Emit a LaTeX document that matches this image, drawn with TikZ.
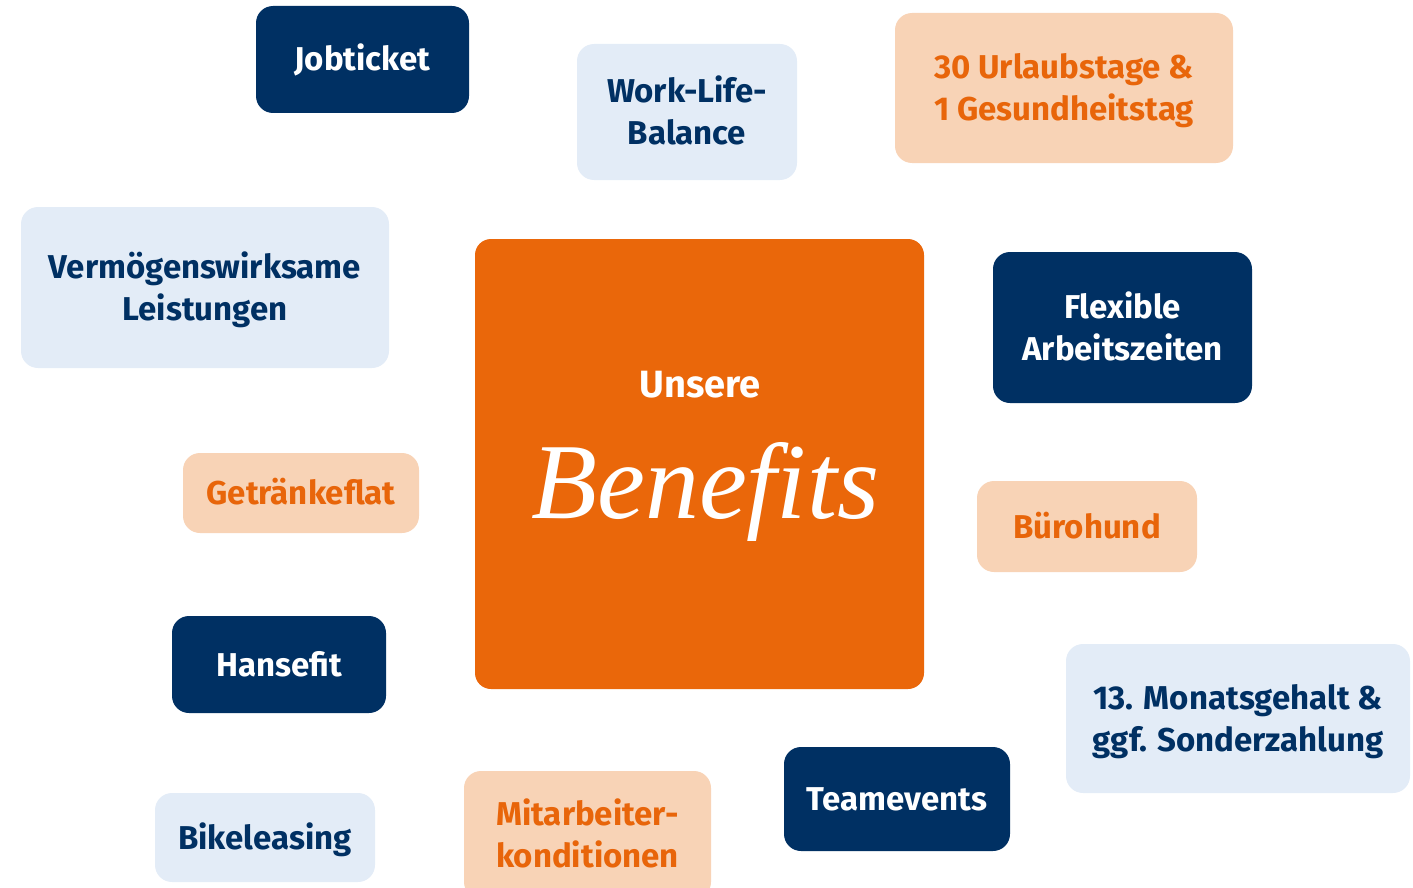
\documentclass[tikz,border=0pt]{standalone}
\usepackage{fontspec}
\setmainfont{Fira Sans}
\newfontfamily\benefitsfont{Liberation Serif}
\definecolor{navy}{RGB}{0,48,99}
\definecolor{lightblue}{RGB}{227,236,247}
\definecolor{peach}{RGB}{248,211,182}
\definecolor{brandorange}{RGB}{234,103,10}
\definecolor{orangetext}{RGB}{232,101,10}
\begin{document}
\begin{tikzpicture}[x=1pt,y=-1pt,
  benefit/.style={rounded corners=17pt, align=center, inner sep=0pt,
    text height=23pt, text depth=0pt,
    font=\fontsize{33}{42}\selectfont\bfseries},
  twolines/.style={text height=65pt, text depth=0pt},
  darkbox/.style={benefit, fill=navy, text=white},
  lightbox/.style={benefit, fill=lightblue, text=navy},
  peachbox/.style={benefit, fill=peach, text=orangetext},
  centerbox/.style={fill=brandorange, rounded corners=16pt, inner sep=0pt},
  unseretext/.style={text=white, font=\fontsize{38}{44}\selectfont\bfseries, inner sep=0pt},
  scripttext/.style={text=white, font=\fontsize{108}{110}\selectfont\benefitsfont\itshape, inner sep=0pt}]
\useasboundingbox (0,0) rectangle (1413,888);
\clip (0,0) rectangle (1413,888);

\node[centerbox, minimum width=449pt, minimum height=450pt] (center) at (699.5,464) {};
\node[unseretext] (unsere) at (700,384.5) {Unsere};
\node[scripttext] (benefits) at (705,492) {Benefits};

\node[darkbox, minimum width=213pt, minimum height=107pt] (jobticket) at (362.5,59.5) {Jobticket};
\node[lightbox, twolines, minimum width=220pt, minimum height=136pt] (worklife) at (687,112) {Work-Life-\\Balance};
\node[peachbox, twolines, minimum width=338pt, minimum height=150pt] (urlaub) at (1064,88) {30 Urlaubstage \&\\1 Gesundheitstag};
\node[lightbox, twolines, minimum width=368pt, minimum height=161pt] (vwl) at (205,287.5) {Vermögenswirksame\\Leistungen};
\node[darkbox, twolines, minimum width=259pt, minimum height=151pt] (flexible) at (1122.5,327.5) {Flexible\\Arbeitszeiten};
\node[peachbox, minimum width=236pt, minimum height=80pt] (getraenke) at (301,493) {Getränkeflat};
\node[peachbox, minimum width=220pt, minimum height=91pt] (buerohund) at (1087,526.5) {Bürohund};
\node[darkbox, minimum width=214pt, minimum height=97pt] (hansefit) at (279,664.5) {Hansefit};
\node[lightbox, twolines, minimum width=344pt, minimum height=149pt] (monat) at (1238,718.5) {13. Monatsgehalt \&\\ggf. Sonderzahlung};
\node[lightbox, minimum width=220pt, minimum height=89pt] (bike) at (265,837.5) {Bikeleasing};
\node[peachbox, twolines, minimum width=247pt, minimum height=128pt] (mitarbeiter) at (587.5,835) {Mitarbeiter-\\konditionen};
\node[darkbox, minimum width=226pt, minimum height=104pt] (teamevents) at (897,799) {Teamevents};
\end{tikzpicture}
\end{document}
